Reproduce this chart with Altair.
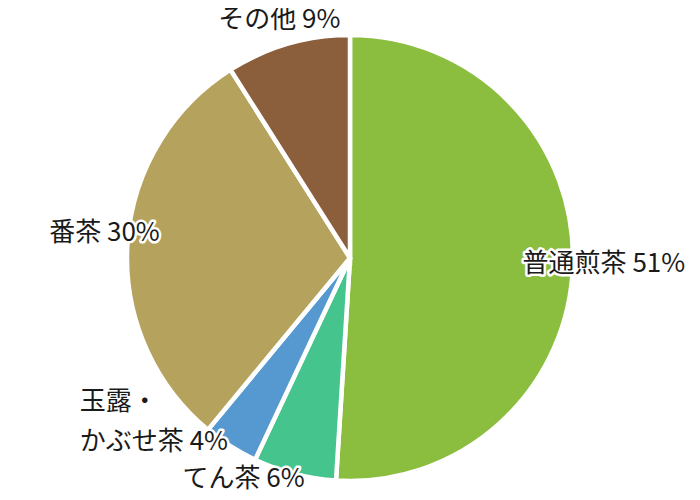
import altair as alt
import pandas as pd
import math

categories = ["普通煎茶", "てん茶", "玉露・かぶせ茶", "番茶", "その他"]
labels = ["普通煎茶 51%", "てん茶 6%", "玉露・\nかぶせ茶 4%", "番茶 30%", "その他 9%"]
values = [51, 6, 4, 30, 9]
colors = ["#8BBE3F", "#45C48E", "#5599D0", "#B5A35D", "#8B5E3C"]

df = pd.DataFrame({
    "category": categories,
    "label": labels,
    "value": values,
    "order": list(range(len(categories))),
})

FONT = "Noto Sans CJK JP"

base = alt.Chart(df)

pie = base.mark_arc(outerRadius=223, stroke="white", strokeWidth=4.5).encode(
    theta=alt.Theta("value:Q", stack=True),
    order=alt.Order("order:Q"),
    color=alt.Color("category:N", scale=alt.Scale(domain=categories, range=colors), legend=None),
)

stacked = base.transform_window(
    cum="sum(value)", sort=[alt.SortField("order")], frame=[None, 0]
).transform_joinaggregate(total="sum(value)").transform_calculate(
    mid="(datum.cum - datum.value / 2) / datum.total"
)

theta_mid = alt.Theta("mid:Q", scale=alt.Scale(domain=[0, 1], range=[0, 2 * math.pi]), stack=None)


def label_layer(cat, r, dx, dy, align="center"):
    layers = []
    for halo in (True, False):
        kw = dict(radius=r, dx=dx, dy=dy, align=align, baseline="middle",
                  font=FONT, fontSize=26, lineBreak="\n", lineHeight=40)
        if halo:
            kw.update(fill="white", stroke="white", strokeWidth=5, strokeJoin="round")
        else:
            kw.update(fill="#1a1a1a")
        layers.append(
            stacked.transform_filter(alt.datum.category == cat)
            .mark_text(**kw).encode(theta=theta_mid, text="label:N")
        )
    return layers


text_layers = []
text_layers += label_layer("普通煎茶", 254, 0, -2)
text_layers += label_layer("その他", 250, -1, 2)
text_layers += label_layer("番茶", 246, 0, -10)
text_layers += label_layer("てん茶", 215, -53, 13)
text_layers += label_layer("玉露・かぶせ茶", 200, -163, -25, align="left")

chart = alt.layer(pie, *text_layers).resolve_scale(theta="independent").properties(
    width=684,
    height=468,
    autosize=alt.AutoSizeParams(type="none"),
    padding={"top": 16, "left": 0, "right": 0, "bottom": 0},
).configure_view(stroke=None)

chart.save("out.html", embed_options={"renderer": "svg", "actions": False})
